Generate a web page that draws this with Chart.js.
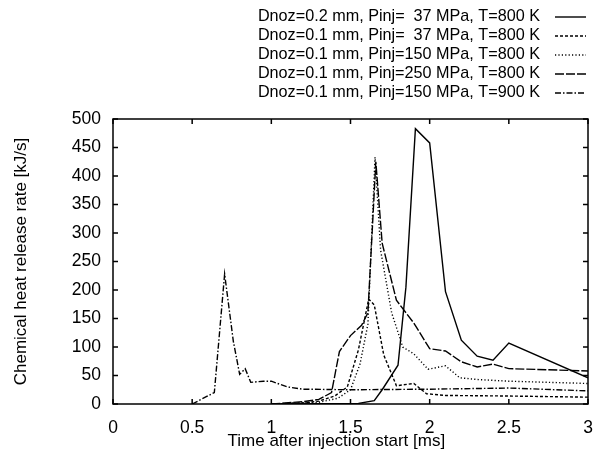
<!DOCTYPE html>
<html>
<head>
<meta charset="utf-8">
<script src="https://cdn.jsdelivr.net/npm/chart.js@4"></script>
<style>
  html, body { margin:0; padding:0; background:#fff; }
  #wrap { width:594px; height:452px; }
</style>
</head>
<body>
<div id="wrap"><canvas id="chart"></canvas></div>
<script>
// ---------- DATA (time in ms, heat release in kJ/s) ----------
const LABELS = [
  "Dnoz=0.2 mm, Pinj=  37 MPa, T=800 K",
  "Dnoz=0.1 mm, Pinj=  37 MPa, T=800 K",
  "Dnoz=0.1 mm, Pinj=150 MPa, T=800 K",
  "Dnoz=0.1 mm, Pinj=250 MPa, T=800 K",
  "Dnoz=0.1 mm, Pinj=150 MPa, T=900 K"
];

const tD02P37 = [1.0, 1.55, 1.65, 1.70, 1.80, 1.85, 1.91, 2.0, 2.1, 2.2, 2.3, 2.4, 2.5, 3.0];
const qD02P37 = [0, 1, 6, 25, 68, 205, 483, 458, 197, 112, 84, 77, 107, 46];

const tD01P37 = [1.0, 1.2, 1.3, 1.4, 1.48, 1.55, 1.615, 1.65, 1.71, 1.79, 1.9, 1.98, 2.1, 2.5, 3.0];
const qD01P37 = [0, 2, 5, 14, 30, 95, 184, 174, 86, 32, 36, 18, 15, 14, 12];

const tD01P150 = [1.0, 1.2, 1.3, 1.42, 1.5, 1.56, 1.61, 1.655, 1.69, 1.76, 1.83, 1.9, 1.99, 2.1, 2.19, 2.3, 2.5, 3.0];
const qD01P150 = [0, 2, 3, 10, 25, 70, 140, 433, 270, 160, 100, 88, 61, 67, 46, 43, 40, 36];

const tD01P250 = [1.0, 1.2, 1.3, 1.38, 1.43, 1.5, 1.57, 1.61, 1.66, 1.70, 1.79, 1.9, 2.0, 2.1, 2.2, 2.3, 2.4, 2.5, 3.0];
const qD01P250 = [0, 4, 8, 20, 92, 120, 138, 160, 425, 282, 182, 142, 97, 93, 74, 65, 70, 62, 58];

const tD01T900 = [0.5, 0.64, 0.705, 0.76, 0.8, 0.835, 0.87, 0.95, 1.0, 1.1, 1.2, 1.5, 2.0, 2.5, 3.0];
const qD01T900 = [0, 20, 228, 110, 52, 62, 38, 40, 40, 30, 26, 25, 26, 28, 23];

const FONT = '"Liberation Sans", Arial, Helvetica, sans-serif';

function pts(t, q) { return t.map((x, i) => ({ x: x, y: q[i] })); }

function series(label, t, q, dash) {
  return {
    label: label, data: pts(t, q),
    borderColor: "#000", backgroundColor: "#000",
    borderWidth: 1.4, borderDash: dash,
    pointRadius: 0, tension: 0, fill: false
  };
}

// ---------- PLUGINS ----------
// gnuplot style frame with inward ticks on all four sides
const framePlugin = {
  id: "frame",
  afterDraw(chart) {
    const ctx = chart.ctx, a = chart.chartArea;
    const xs = chart.scales.x, ys = chart.scales.y;
    ctx.save();
    ctx.strokeStyle = "#000";
    ctx.lineWidth = 1.5;
    ctx.setLineDash([]);
    ctx.strokeRect(a.left, a.top, a.right - a.left, a.bottom - a.top);
    ctx.beginPath();
    xs.ticks.forEach(t => {
      const px = xs.getPixelForValue(t.value);
      ctx.moveTo(px, a.bottom); ctx.lineTo(px, a.bottom - 5);
      ctx.moveTo(px, a.top); ctx.lineTo(px, a.top + 5);
    });
    ys.ticks.forEach(t => {
      const py = ys.getPixelForValue(t.value);
      ctx.moveTo(a.left, py); ctx.lineTo(a.left + 5, py);
      ctx.moveTo(a.right, py); ctx.lineTo(a.right - 5, py);
    });
    ctx.stroke();
    ctx.restore();
  }
};

// key in the top right corner: text first, line sample after it
const keyPlugin = {
  id: "key",
  afterDraw(chart) {
    const ctx = chart.ctx;
    ctx.save();
    ctx.font = "16.2px " + FONT;
    ctx.fillStyle = "#000";
    ctx.textAlign = "right";
    ctx.textBaseline = "middle";
    chart.data.datasets.forEach((ds, i) => {
      const y = 17 + i * 19;
      ctx.fillText(ds.label, 540, y);
      ctx.beginPath();
      ctx.setLineDash(ds.borderDash || []);
      ctx.lineWidth = ds.borderWidth;
      ctx.strokeStyle = "#000";
      ctx.moveTo(555, y);
      ctx.lineTo(586, y);
      ctx.stroke();
    });
    ctx.restore();
  }
};

// ---------- CHART ----------
new Chart(document.getElementById("chart"), {
  type: "line",
  data: {
    datasets: [
      series(LABELS[0], tD02P37, qD02P37, []),
      series(LABELS[1], tD01P37, qD01P37, [3, 2]),
      series(LABELS[2], tD01P150, qD01P150, [1.2, 2.2]),
      series(LABELS[3], tD01P250, qD01P250, [9, 2]),
      series(LABELS[4], tD01T900, qD01T900, [6, 2, 1.5, 2])
    ]
  },
  options: {
    responsive: true,
    maintainAspectRatio: false,
    animation: false,
    layout: { padding: { top: 119, right: 0, left: 0, bottom: 0 } },
    plugins: { legend: { display: false }, tooltip: { enabled: false } },
    scales: {
      x: {
        type: "linear", min: 0, max: 3,
        grid: { display: false }, border: { display: false },
        ticks: { stepSize: 0.5, padding: 6, color: "#000", font: { family: FONT, size: 17.5 },
                 callback: v => String(Math.round(v * 10) / 10) },
        title: { display: true, text: "Time after injection start [ms]      ", color: "#000",
                 font: { family: FONT, size: 17 }, padding: { top: 0, bottom: 0 } },
        afterFit: s => { s.height = 48; s.paddingLeft = 0; s.paddingRight = 6; }
      },
      y: {
        min: 0, max: 500,
        grid: { display: false }, border: { display: false },
        ticks: { stepSize: 50, padding: 4, color: "#000", font: { family: FONT, size: 17.5 } },
        title: { display: true, text: "Chemical heat release rate [kJ/s]", color: "#000",
                 font: { family: FONT, size: 17 }, padding: { top: 11, bottom: 0 } },
        afterFit: s => { s.width = 113; }
      }
    }
  },
  plugins: [framePlugin, keyPlugin]
});
</script>
</body>
</html>
